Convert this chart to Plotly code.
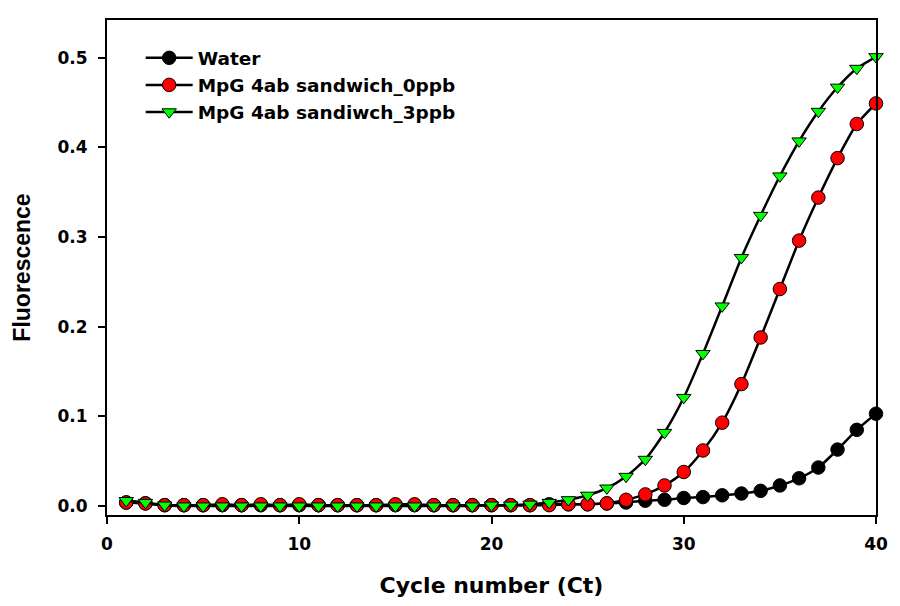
import plotly.graph_objects as go

cycles = list(range(1, 41))

water = [0.004, 0.003, 0.001, 0.001, 0.001, 0.001, 0.001, 0.001, 0.001, 0.001,
         0.001, 0.001, 0.001, 0.001, 0.001, 0.001, 0.001, 0.001, 0.001, 0.001,
         0.001, 0.001, 0.002, 0.002, 0.002, 0.003, 0.004, 0.006, 0.007, 0.009,
         0.010, 0.012, 0.014, 0.017, 0.023, 0.031, 0.043, 0.063, 0.085, 0.103]

ppb0 = [0.004, 0.003, 0.001, 0.001, 0.001, 0.002, 0.001, 0.002, 0.001, 0.002,
        0.001, 0.001, 0.001, 0.001, 0.002, 0.002, 0.001, 0.001, 0.001, 0.001,
        0.001, 0.001, 0.001, 0.002, 0.002, 0.003, 0.007, 0.013, 0.023, 0.038,
        0.062, 0.093, 0.136, 0.188, 0.242, 0.296, 0.344, 0.388, 0.426, 0.449]

ppb3 = [0.006, 0.004, 0.001, 0.000, 0.000, 0.000, 0.000, 0.000, 0.000, 0.000,
        0.000, 0.000, 0.000, 0.000, 0.000, 0.000, 0.000, 0.000, 0.000, 0.001,
        0.001, 0.002, 0.004, 0.007, 0.012, 0.020, 0.033, 0.052, 0.082, 0.121,
        0.170, 0.223, 0.277, 0.324, 0.368, 0.407, 0.440, 0.467, 0.488, 0.501]

names = ["Water", "MpG 4ab sandwich_0ppb", "MpG 4ab sandiwch_3ppb"]
colors = ["black", "#ff0000", "#00ff00"]
symbols = ["circle", "circle", "triangle-down"]
sizes = [13.5, 13.5, 12.5]

fig = go.Figure()
for name, ys, col, sym, sz in zip(names, [water, ppb0, ppb3], colors, symbols, sizes):
    fig.add_trace(go.Scatter(
        x=cycles, y=ys, name=name, mode="lines+markers",
        line=dict(color="black", width=2.5, shape="spline", smoothing=0.6),
        marker=dict(symbol=sym, size=sz, color=col,
                    line=dict(color="black", width=1)),
        cliponaxis=False,
    ))

wide = "DejaVu Sans, Verdana, sans-serif"
arial = "Liberation Sans, Arial, sans-serif"

fig.update_layout(
    width=900, height=606,
    margin=dict(l=107, r=17, t=20, b=87),
    paper_bgcolor="white", plot_bgcolor="white",
    font=dict(family=wide, color="black"),
    showlegend=True,
    legend=dict(x=0.0438, y=0.961, xanchor="left", yanchor="top",
                bgcolor="rgba(0,0,0,0)",
                font=dict(size=18.5, family=wide, weight="bold"),
                itemwidth=47),
    xaxis=dict(
        range=[0, 40], tickvals=[0, 10, 20, 30, 40],
        showline=True, linecolor="black", linewidth=2, mirror=True,
        ticks="outside", ticklen=7, tickwidth=1.5, tickcolor="black",
        ticklabelstandoff=6,
        showgrid=False, zeroline=False,
        tickfont=dict(size=17, family=wide, weight="bold"),
        title=dict(text="Cycle number (Ct)", standoff=24,
                   font=dict(size=22, family=wide, weight="bold")),
    ),
    yaxis=dict(
        range=[-0.00996, 0.542], tickvals=[0, 0.1, 0.2, 0.3, 0.4, 0.5],
        tickformat=".1f",
        showline=True, linecolor="black", linewidth=2, mirror=True,
        ticks="outside", ticklen=7, tickwidth=1.5, tickcolor="black",
        ticklabelstandoff=7,
        showgrid=False, zeroline=False,
        tickfont=dict(size=17, family=wide, weight="bold"),
        title=dict(text="Fluorescence", standoff=20,
                   font=dict(size=23, family=arial, weight="bold")),
    ),
)

fig.write_html("out.html")
